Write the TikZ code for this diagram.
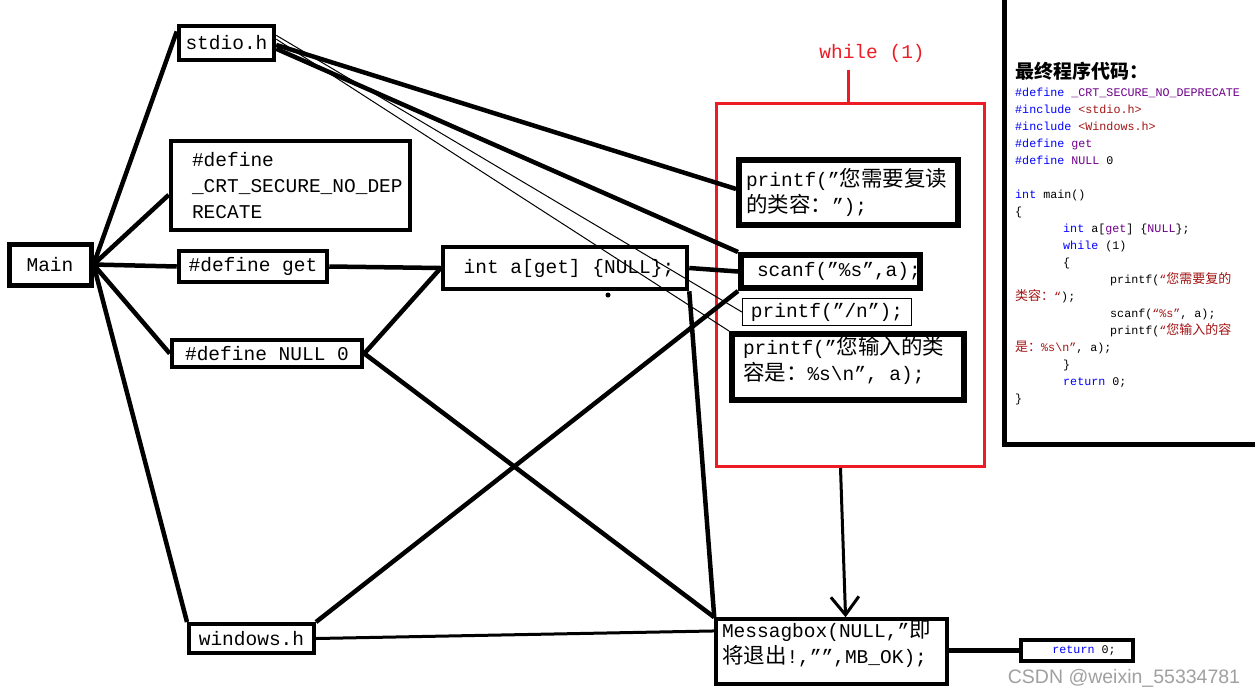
\documentclass[tikz,border=0pt]{standalone}
\usepackage{fontspec}
\usetikzlibrary{arrows.meta,calc}
\newfontfamily\lat{Liberation Mono}
\newfontfamily\cjk{Noto Sans CJK SC}
\newfontfamily\sfw{Liberation Sans}
\definecolor{pred}{RGB}{237,28,36}
\definecolor{kwblue}{RGB}{0,0,255}
\definecolor{macpurple}{RGB}{111,0,138}
\definecolor{strred}{RGB}{163,21,21}
\definecolor{wmgray}{RGB}{160,160,160}
\newcommand\dfont{\lat\fontsize{19.5}{26}\selectfont}
\newcommand\zh[1]{{\cjk\fontsize{21.5}{26}\selectfont #1}}
\newcommand\cfont{\lat\fontsize{11.7}{17}\selectfont}
\newcommand\zc[1]{{\cjk\fontsize{13}{17}\selectfont #1}}
\newcommand\kw[1]{\textcolor{kwblue}{#1}}
\newcommand\mc[1]{\textcolor{macpurple}{#1}}
\newcommand\sr[1]{\textcolor{strred}{#1}}
\begin{document}
\begin{tikzpicture}[x=1pt,y=-1pt,
  bx/.style={draw, line width=4.5pt, inner sep=0pt, font=\dfont},
  link/.style={line width=4.5pt},
  thin link/.style={line width=1pt},
  codeline/.style={anchor=base west, inner sep=0pt, font=\cfont},
]
\useasboundingbox (0,0) rectangle (1255,697);
\fill[white] (0,0) rectangle (1255,697);

% boxes
\node[bx, line width=5pt, minimum width=82pt, minimum height=41pt] (main) at (50,264.5) {Main};
\node[bx, minimum width=95pt, minimum height=34pt] (stdio) at (226.5,43) {stdio.h};
\node[bx, inner xsep=21pt, inner ysep=2pt] (crt) at (290.5,185.5)
  {\parbox[c][85pt][c]{197pt}{\raggedright \#define\\\_CRT\_SECURE\_NO\_DEP\\RECATE}};
\node[bx, minimum width=148pt, minimum height=31pt] (getd) at (253,266.5) {\#define get};
\node[bx, minimum width=190pt, minimum height=27pt] (nulld) at (267,353.5) {\#define NULL 0};
\node[bx, minimum width=244pt, minimum height=42pt] (intb) at (565,268) {\hspace*{8pt}int a[get] \{NULL\};};
\node[bx, line width=6pt, inner xsep=7pt, inner ysep=4pt] (pf1) at (848.5,192.5)
  {\parbox[c][57pt][c]{205pt}{\raggedright printf(”\zh{您需要复读}\\\zh{的类容：}”);}};
\node[bx, line width=6pt, minimum width=179pt, minimum height=33pt, inner xsep=16pt] (scanf) at (830.5,271.5)
  {\makebox[147pt][l]{scanf(”\%s”,a);}};
\node[bx, line width=1.2pt, minimum width=169pt, minimum height=27pt] (pfn) at (827,312) {printf(”/n”);};
\node[bx, line width=6pt, inner xsep=11pt, inner ysep=2pt] (pf3) at (848,367)
  {\parbox[c][62pt][t]{210pt}{\raggedright printf(”\zh{您输入的类}\\\zh{容是：}\%s\textbackslash n”, a);}};
\node[bx, line width=3.5pt, inner xsep=6pt, inner ysep=2pt] (msg) at (831.5,651.5)
  {\parbox[c][61pt][t]{219pt}{\raggedright Messagbox(NULL,”\zh{即}\\\zh{将退出}!,””,MB\_OK);}};
\node[bx, line width=4pt, minimum width=125pt, minimum height=29pt] (win) at (251.5,638.5) {windows.h};
\node[bx, line width=4pt, minimum width=112pt, minimum height=21pt, font=\cfont] (ret) at (1077,650.5)
  {\hspace*{14pt}\kw{return} 0;};

% while loop frame
\node[draw=pred, line width=3pt, minimum width=268pt, minimum height=363pt, inner sep=0pt] (loop) at (850.5,285) {};
\node[text=pred, font=\dfont, inner sep=0pt] (wlab) at (872,53) {while (1)};
\coordinate (wt) at (848,70);
\draw[pred, line width=3pt] (wt) -- (wt |- loop.north);

% connectors
\draw[link] (main.east) -- ($(stdio.north west)!0.2!(stdio.south west)$);
\draw[link] (main.east) -- ($(crt.north west)!0.6!(crt.south west)$);
\draw[link] (main.east) -- (getd.west);
\draw[link] (main.east) -- (nulld.west);
\draw[link] (main.east) -- (win.north west);
\draw[link] ($(stdio.north east)!0.55!(stdio.south east)$) -- ($(pf1.north west)!0.45!(pf1.south west)$);
\draw[link] ($(stdio.north east)!0.65!(stdio.south east)$) -- (scanf.north west);
\draw[thin link] ($(stdio.north east)!0.3!(stdio.south east)$) -- (pfn.west);
\draw[thin link] ($(stdio.north east)!0.4!(stdio.south east)$) -- (pf3.north west);
\draw[link] (getd.east) -- (intb.west);
\draw[link] (nulld.east) -- (intb.west);
\draw[link] (intb.east) -- (scanf.west);
\draw[link] (intb.south east) -- (msg.north west);
\draw[link] (nulld.east) -- (msg.north west);
\draw[link] (win.north east) -- (scanf.south west);
\draw[line width=3pt] (win.east) -- ($(msg.north west)!0.2!(msg.south west)$);
\draw[link] (msg.east |- ret.west) -- (ret.west);
\draw[line width=3pt, -{Straight Barb[length=18pt,width=28pt]}] ($(loop.south)+(-10,0)$) -- ($(msg.north west)!0.56!(msg.north east)$);
\fill (608,295) circle (2.5);

% code panel
\draw[line width=5pt] (1004.5,0) -- (1004.5,444) -- (1255,444);
\node[anchor=base west, inner sep=0pt, font=\cjk\bfseries\fontsize{19}{20}\selectfont] (title) at (1015,78) {最终程序代码：};
\node[codeline] (c1) at (1015,96) {\kw{\#define} \mc{\_CRT\_SECURE\_NO\_DEPRECATE}};
\node[codeline] (c2) at (1015,113) {\kw{\#include} \sr{<stdio.h>}};
\node[codeline] (c3) at (1015,130) {\kw{\#include} \sr{<Windows.h>}};
\node[codeline] (c4) at (1015,147) {\kw{\#define} \mc{get}};
\node[codeline] (c5) at (1015,164) {\kw{\#define} \mc{NULL} 0};
\node[codeline] (c7) at (1015,198) {\kw{int} main()};
\node[codeline] (c8) at (1015,215) {\{};
\node[codeline] (c9) at (1063,232) {\kw{int} a[\mc{get}] \{\mc{NULL}\};};
\node[codeline] (c10) at (1063,249) {\kw{while} (1)};
\node[codeline] (c11) at (1063,266) {\{};
\node[codeline] (c12) at (1110,283) {printf(\sr{“\zc{您需要复的}}};
\node[codeline] (c13) at (1015,300) {\sr{\zc{类容：}“});};
\node[codeline] (c14) at (1110,317) {scanf(\sr{“\%s”}, a);};
\node[codeline] (c15) at (1110,334) {printf(\sr{“\zc{您输入的容}}};
\node[codeline] (c16) at (1015,351) {\sr{\zc{是：}\%s\textbackslash n”}, a);};
\node[codeline] (c17) at (1063,368) {\}};
\node[codeline] (c18) at (1063,385) {\kw{return} 0;};
\node[codeline] (c19) at (1015,402) {\}};

% watermark
\node[text=wmgray, font=\sfw\fontsize{19.5}{21}\selectfont, inner sep=0pt] (wm) at (1124,678) {CSDN @weixin\_55334781};
\end{tikzpicture}
\end{document}
